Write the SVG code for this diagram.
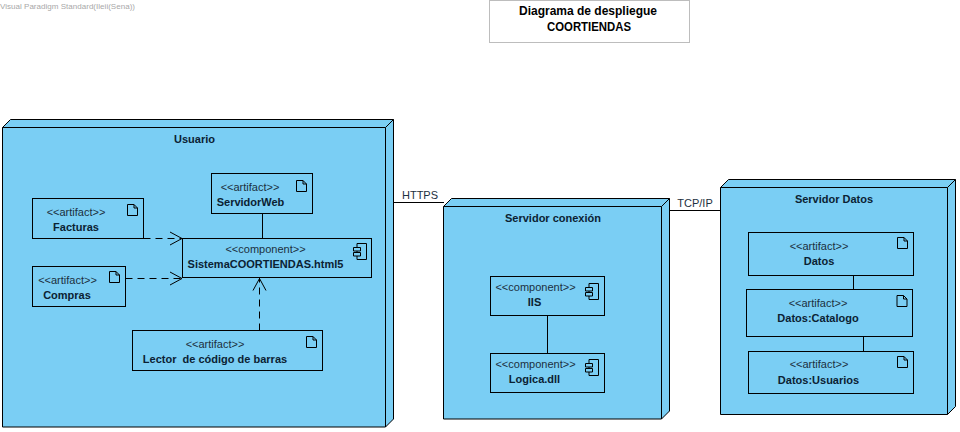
<svg xmlns="http://www.w3.org/2000/svg" width="960" height="432" viewBox="0 0 960 432">
<style>
text{font-family:"Liberation Sans",Arial,sans-serif;font-size:11px;fill:#0b2233;text-anchor:middle}
.b{font-weight:bold}
.s{fill:#1c3040}
.t{font-size:12px;fill:#000;font-weight:bold}
.w{font-size:8px;fill:#a8a8a8;text-anchor:start}
.n{fill:#7ACEF4;stroke:#000;stroke-width:1}
.f{fill:none;stroke:#000;stroke-width:1}
.d{stroke-dasharray:7 5}
</style>
<defs>
<g id="doc"><path class="f" d="M0 0H6.5L10 3.5V11H0Z M6.5 0V3.5H10"/></g>
<g id="cmp"><path class="f" d="M3.5 0H13V16H3.5Z"/><path class="n" d="M0 4H7V7.5H0ZM0 9H7V12.5H0Z"/></g>
<path id="ah" class="f" d="M-12 -6.5L0 0L-12 6.5"/>
</defs>
<text class="w" x="0" y="9" textLength="135" lengthAdjust="spacing">Visual Paradigm Standard(Ileii(Sena))</text>
<g id="title"><rect x="489.5" y="0.5" width="200" height="42" fill="#fff" stroke="#bdbdbd"/><text class="t" x="588" y="15">Diagrama de despliegue</text><text class="t" x="589" y="31" textLength="84" lengthAdjust="spacingAndGlyphs">COORTIENDAS</text></g>

<g id="usuario"><path class="n" d="M2.5 127.5L10.5 119.5H393.5V419L385.5 427H2.5Z"/><path class="f" d="M2.5 127.5H385.5V427M385.5 127.5L393.5 119.5"/><text class="b" x="194.5" y="143">Usuario</text></g>
<g id="servidor-conexion"><path class="n" d="M443.5 206.5L451.5 198.5H669.5V411L661.5 419H443.5Z"/><path class="f" d="M443.5 206.5H661.5V419M661.5 206.5L669.5 198.5"/><text class="b" x="553" y="222">Servidor conexión</text></g>
<g id="servidor-datos"><path class="n" d="M720.5 187.5L728.5 179.5H955.5V406.5L947.5 414.5H720.5Z"/><path class="f" d="M720.5 187.5H947.5V414.5M947.5 187.5L955.5 179.5"/><text class="b" x="834" y="203">Servidor Datos</text></g>

<g id="connectors">
<path class="f" d="M393.5 202.5H444M669.5 210.5H720.5M262.5 213.5V238.5M547.5 315.5V353.5M853.5 275.5V289.5M863.5 336.5V351.5"/>
<path class="f d" d="M143.5 238.5H182M125.5 278.5H182M259.5 330.5V278"/>
<use href="#ah" x="182" y="238.5"/>
<use href="#ah" x="182" y="278.5"/>
<use href="#ah" transform="translate(259.5 278.5) rotate(-90)"/>
<text class="s" x="420" y="199">HTTPS</text>
<text class="s" x="695" y="207">TCP/IP</text>
</g>

<g id="servidorweb"><rect class="n" x="211.5" y="173.5" width="101" height="40"/><use href="#doc" x="296.5" y="180.5"/><text class="s" x="250" y="191">&lt;&lt;artifact&gt;&gt;</text><text class="b" x="250.5" y="206">ServidorWeb</text></g>
<g id="facturas"><rect class="n" x="32.5" y="198.5" width="111" height="40"/><use href="#doc" x="127.5" y="204.5"/><text class="s" x="76" y="216">&lt;&lt;artifact&gt;&gt;</text><text class="b" x="76" y="231">Facturas</text></g>
<g id="sistema"><rect class="n" x="182.5" y="238.5" width="189" height="39"/><use href="#cmp" x="353.5" y="243.5"/><text class="s" x="265.5" y="253">&lt;&lt;component&gt;&gt;</text><text class="b" x="265.5" y="268">SistemaCOORTIENDAS.html5</text></g>
<g id="compras"><rect class="n" x="32.5" y="266.5" width="93" height="40"/><use href="#doc" x="109.5" y="271.5"/><text class="s" x="67.5" y="284">&lt;&lt;artifact&gt;&gt;</text><text class="b" x="67" y="299">Compras</text></g>
<g id="lector"><rect class="n" x="132.5" y="330.5" width="190" height="40"/><use href="#doc" x="306.5" y="336.5"/><text class="s" x="215" y="348">&lt;&lt;artifact&gt;&gt;</text><text class="b" x="215" y="363" xml:space="preserve">Lector  de código de barras</text></g>

<g id="iis"><rect class="n" x="490.5" y="276.5" width="114" height="39"/><use href="#cmp" x="585.5" y="283.5"/><text class="s" x="535.5" y="291">&lt;&lt;component&gt;&gt;</text><text class="b" x="534.5" y="306">IIS</text></g>
<g id="logica"><rect class="n" x="490.5" y="353.5" width="114" height="39"/><use href="#cmp" x="585.5" y="359.5"/><text class="s" x="535.5" y="368">&lt;&lt;component&gt;&gt;</text><text class="b" x="534.5" y="383">Logica.dll</text></g>

<g id="datos"><rect class="n" x="748.5" y="232.5" width="165" height="43"/><use href="#doc" x="897.5" y="237.5"/><text class="s" x="819" y="250">&lt;&lt;artifact&gt;&gt;</text><text class="b" x="819" y="265">Datos</text></g>
<g id="datos-catalogo"><rect class="n" x="746.5" y="289.5" width="166" height="47"/><use href="#doc" x="897" y="295.5"/><text class="s" x="818" y="307">&lt;&lt;artifact&gt;&gt;</text><text class="b" x="818" y="322">Datos:Catalogo</text></g>
<g id="datos-usuarios"><rect class="n" x="748.5" y="351.5" width="165" height="42"/><use href="#doc" x="897.5" y="356.5"/><text class="s" x="819" y="368">&lt;&lt;artifact&gt;&gt;</text><text class="b" x="818.5" y="384">Datos:Usuarios</text></g>
</svg>
